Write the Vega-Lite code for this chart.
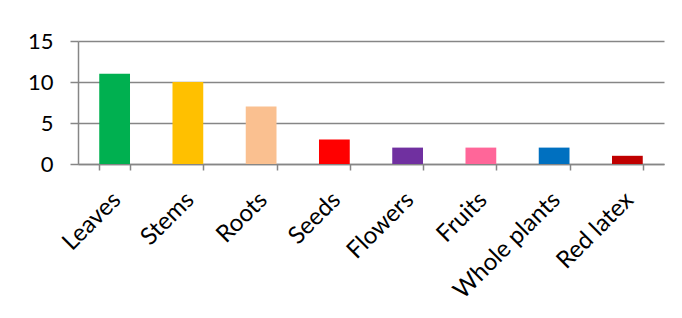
{
  "$schema": "https://vega.github.io/schema/vega-lite/v6.json",
  "autosize": "none",
  "width": 586,
  "height": 123,
  "padding": {"left": 78, "top": 41, "right": 18, "bottom": 154},
  "background": "white",
  "config": {"view": {"stroke": null}},
  "data": {"values": [
    {"part": "Leaves", "count": 11, "color": "#00B050"},
    {"part": "Stems", "count": 10, "color": "#FFC000"},
    {"part": "Roots", "count": 7, "color": "#FAC090"},
    {"part": "Seeds", "count": 3, "color": "#FF0000"},
    {"part": "Flowers", "count": 2, "color": "#7030A0"},
    {"part": "Fruits", "count": 2, "color": "#FF6699"},
    {"part": "Whole plants", "count": 2, "color": "#0070C0"},
    {"part": "Red latex", "count": 1, "color": "#C00000"}
  ]},
  "mark": {"type": "bar"},
  "encoding": {
    "x": {
      "field": "part", "type": "nominal", "sort": null,
      "scale": {"paddingInner": 0.58, "paddingOuter": 0.29},
      "axis": {
        "title": null,
        "labelAngle": -45, "labelAlign": "right", "labelBaseline": "middle",
        "labelFont": "Lato", "labelFontSize": 24, "labelColor": "black",
        "labelPadding": 26, "labelOffset": 2,
        "domainColor": "#868686", "domainWidth": 1.5,
        "tickColor": "#868686", "tickWidth": 1.5, "tickSize": 6, "tickBand": "extent",
        "grid": false
      }
    },
    "y": {
      "field": "count", "type": "quantitative",
      "scale": {"domain": [0, 15], "nice": false},
      "axis": {
        "title": null, "values": [0, 5, 10, 15],
        "labelFont": "Lato", "labelFontSize": 22, "labelColor": "black",
        "labelPadding": 17,
        "domainColor": "#868686", "domainWidth": 1.5,
        "tickColor": "#868686", "tickWidth": 1.5, "tickSize": 8,
        "gridColor": "#868686", "gridWidth": 1.5
      }
    },
    "color": {"field": "color", "type": "nominal", "scale": null, "legend": null}
  }
}
